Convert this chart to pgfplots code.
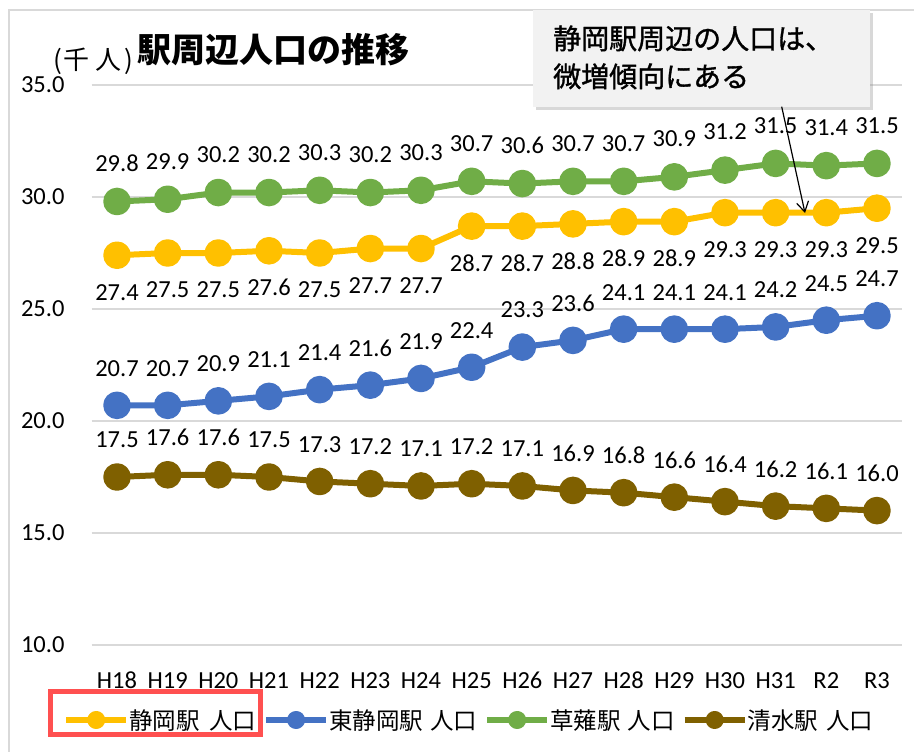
\documentclass[border=0pt]{standalone}
\usepackage{fontspec}
\setmainfont{Carlito}
\newfontfamily\cjk{Noto Sans CJK JP}
\newfontfamily\cjkm[FakeBold=1.2]{Noto Sans CJK JP}
\usepackage{pgfplots}
\pgfplotsset{compat=1.18}
\usetikzlibrary{shadows,arrows.meta}
\definecolor{cY}{HTML}{FFC000}
\definecolor{cB}{HTML}{4472C4}
\definecolor{cG}{HTML}{70AD47}
\definecolor{cBr}{HTML}{7F6000}
\definecolor{gridc}{HTML}{D9D9D9}
\definecolor{boxc}{HTML}{F2F2F2}
\definecolor{redc}{HTML}{FF5050}
\begin{document}
\begin{tikzpicture}
\path[use as bounding box] (0pt,0pt) rectangle (914pt,-752pt);
\fill[white] (0pt,0pt) rectangle (914pt,-752pt);
\draw[gridc, line width=1.5pt] (9pt,-800pt) -- (9pt,-10pt) -- (930pt,-10pt);
\begin{axis}[
  at={(91.7pt,-645pt)}, anchor=south west,
  scale only axis, width=810.6pt, height=560pt,
  xmin=-0.5, xmax=15.5, ymin=10, ymax=35,
  ytick={10,15,20,25,30,35},
  xtick={0,...,15},
  xticklabels={H18,H19,H20,H21,H22,H23,H24,H25,H26,H27,H28,H29,H30,H31,R2,R3},
  axis line style={draw=none},
  major tick length=0pt,
  ymajorgrids, grid style={draw=gridc, line width=1.4pt},
  /pgf/number format/fixed,
  /pgf/number format/fixed zerofill,
  /pgf/number format/precision=1,
  /pgf/number format/assume math mode=true,
  yticklabel style={anchor=east, inner sep=0pt, xshift=-27pt, font=\fontsize{24.5}{28}\selectfont},
  xticklabel style={anchor=center, inner sep=0pt, yshift=-35.5pt, font=\fontsize{24.5}{28}\selectfont},
  clip=false,
  point meta=y,
  nodes near coords={\pgfmathprintnumber{\pgfplotspointmeta}},
  every node near coord/.append style={font=\fontsize{24.5}{28}\selectfont, anchor=center, inner sep=0pt, text=black},
  legend style={at={(-0.0354,-0.1339)}, anchor=west, draw=none, fill=none, inner sep=0pt,
     nodes={inner sep=0pt},
     font=\cjk\fontsize{23.5}{28}\selectfont,
     /tikz/every even column/.append style={column sep=7pt},
     /tikz/every odd column/.append style={column sep=0pt}},
  legend columns=4,
  legend image code/.code={\draw[#1, mark repeat=2, mark phase=2, mark size=6pt] plot coordinates {(0pt,0pt) (30pt,0pt) (60pt,0pt)};},
]
\addplot[cY, line width=6pt, line join=round, mark=*, mark size=10.8pt, mark options={draw=none, fill=cY},
  every node near coord/.append style={yshift=-37pt}] coordinates {
(0,27.4) (1,27.5) (2,27.5) (3,27.6) (4,27.5) (5,27.7) (6,27.7) (7,28.7) (8,28.7) (9,28.8) (10,28.9) (11,28.9) (12,29.3) (13,29.3) (14,29.3) (15,29.5)};
\addlegendentry{静岡駅\hspace{0.4em}人口}
\addplot[cB, line width=6pt, line join=round, mark=*, mark size=10.8pt, mark options={draw=none, fill=cB},
  every node near coord/.append style={yshift=37pt}] coordinates {
(0,20.7) (1,20.7) (2,20.9) (3,21.1) (4,21.4) (5,21.6) (6,21.9) (7,22.4) (8,23.3) (9,23.6) (10,24.1) (11,24.1) (12,24.1) (13,24.2) (14,24.5) (15,24.7)};
\addlegendentry{東静岡駅\hspace{0.3em}人口}
\addplot[cG, line width=6pt, line join=round, mark=*, mark size=10.8pt, mark options={draw=none, fill=cG},
  every node near coord/.append style={yshift=38pt}] coordinates {
(0,29.8) (1,29.9) (2,30.2) (3,30.2) (4,30.3) (5,30.2) (6,30.3) (7,30.7) (8,30.6) (9,30.7) (10,30.7) (11,30.9) (12,31.2) (13,31.5) (14,31.4) (15,31.5)};
\addlegendentry{草薙駅\hspace{0.3em}人口}
\addplot[cBr, line width=6pt, line join=round, mark=*, mark size=10.8pt, mark options={draw=none, fill=cBr},
  every node near coord/.append style={yshift=37pt}] coordinates {
(0,17.5) (1,17.6) (2,17.6) (3,17.5) (4,17.3) (5,17.2) (6,17.1) (7,17.2) (8,17.1) (9,16.9) (10,16.8) (11,16.6) (12,16.4) (13,16.2) (14,16.1) (15,16.0)};
\addlegendentry{清水駅\hspace{0.35em}人口}
\end{axis}
% title
\node[anchor=base west, inner sep=0pt, font=\cjk\fontsize{26}{30}\selectfont] at (53pt,-70pt) {(\hspace{2pt}千\hspace{6pt}人\hspace{3pt})};
\node[anchor=base west, inner sep=0pt, font=\cjk\bfseries\fontsize{34}{40}\selectfont] at (137pt,-63pt) {駅周辺人口の推移};
% callout
\node[anchor=north west, fill=boxc, minimum width=337pt, minimum height=97pt, inner sep=0pt,
  drop shadow={shadow xshift=3pt, shadow yshift=-3pt, opacity=0.3}] at (533pt,-10pt) {};
\node[anchor=base west, inner sep=0pt, font=\cjkm\fontsize{28}{34}\selectfont] at (553pt,-49pt) {静岡駅周辺の人口は、};
\node[anchor=base west, inner sep=0pt, font=\cjkm\fontsize{28}{34}\selectfont] at (553pt,-87pt) {微増傾向にある};
\draw[black, line width=1.2pt, -{Straight Barb[length=10pt, width=12pt]}] (781.7pt,-106.7pt) -- (805pt,-213pt);
% highlight box around first legend entry
\draw[redc, line width=5pt] (50.5pt,-691.7pt) rectangle (260.5pt,-734.5pt);
\end{tikzpicture}
\end{document}
